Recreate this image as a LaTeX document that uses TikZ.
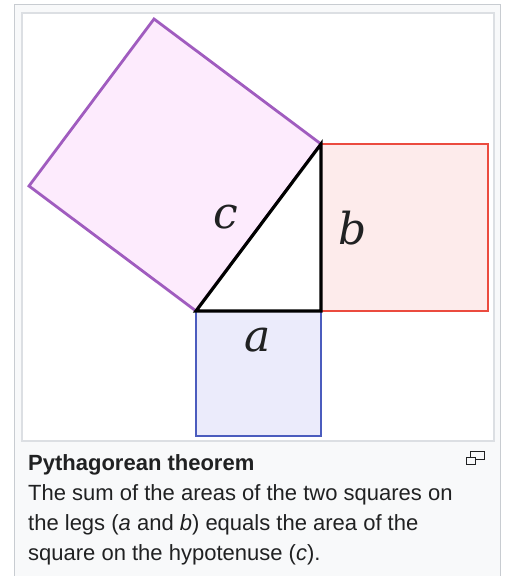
\documentclass[tikz,border=0pt]{standalone}
\usepackage{fontspec}
\setmainfont{Liberation Sans}
\newfontfamily\lblfont{DejaVu Serif}
\definecolor{framegray}{HTML}{C8CCD1}
\definecolor{innergray}{HTML}{DCDFE3}
\definecolor{capbg}{HTML}{F8F9FA}
\definecolor{txt}{HTML}{202122}
\definecolor{purpleline}{HTML}{A05CBF}
\definecolor{purplefill}{HTML}{FDEBFD}
\definecolor{redline}{HTML}{EB4B3F}
\definecolor{redfill}{HTML}{FDEBEB}
\definecolor{blueline}{HTML}{4B5CBE}
\definecolor{bluefill}{HTML}{EBEBFB}
\tikzset{
  sqline/.style={line width=2.8pt, line join=miter},
  tri/.style={line width=3.2pt, black, line join=miter},
  lbl/.style={font=\fontsize{44}{48}\selectfont\lblfont\itshape, inner sep=0pt, text=txt},
  captxt/.style={font=\fontsize{22}{26}\selectfont, text=txt, anchor=base west, inner sep=0pt},
}
\begin{document}
\begin{tikzpicture}[x=1pt,y=-1pt]
\useasboundingbox (0,0) rectangle (504,576);
% frame
\fill[white] (0,0) rectangle (504,576);
\draw[framegray, fill=capbg, line width=1.2pt] (14.5,4.5) rectangle (500.5,590);
\draw[innergray, fill=white, line width=1.5pt] (22,13) rectangle (494,441);
% triangle points
\coordinate (A) at (196,311);
\coordinate (C) at (321,311);
\coordinate (B) at (321,144);
\coordinate (P1) at (29,186);
\coordinate (P2) at (154,19);
% squares
\draw[sqline, draw=purpleline, fill=purplefill] (A) -- (P1) -- (P2) -- (B) -- cycle;
\draw[sqline, draw=redline, fill=redfill] (C) -- (488,311) -- (488,144) -- (B) -- cycle;
\draw[sqline, draw=blueline, fill=bluefill] (A) -- (196,436) -- (321,436) -- (C) -- cycle;
% triangle
\fill[white] (A) -- (C) -- (B) -- cycle;
\draw[tri] (A) -- (C) -- (B) -- cycle;
% labels
\node[lbl] (la) at (258,340) {a};
\node[lbl] (lb) at (353,228) {b};
\node[lbl] (lc) at (226,217) {c};
% caption
\node[captxt, font=\fontsize{22}{26}\selectfont\bfseries] (t0) at (28,470) {Pythagorean theorem};
\node[captxt] (t1) at (28,500) {The sum of the areas of the two squares on};
\node[captxt] (t2) at (28,530) {the legs (\textit{a} and \textit{b}) equals the area of the};
\node[captxt] (t3) at (28,560) {square on the hypotenuse (\textit{c}).};
% icon
\draw[txt, line width=1.3pt] (470.5,451.5) rectangle (484.5,459.5);
\draw[txt, line width=1.3pt, fill=capbg] (466.5,457.5) rectangle (475.5,464.5);
\end{tikzpicture}
\end{document}
